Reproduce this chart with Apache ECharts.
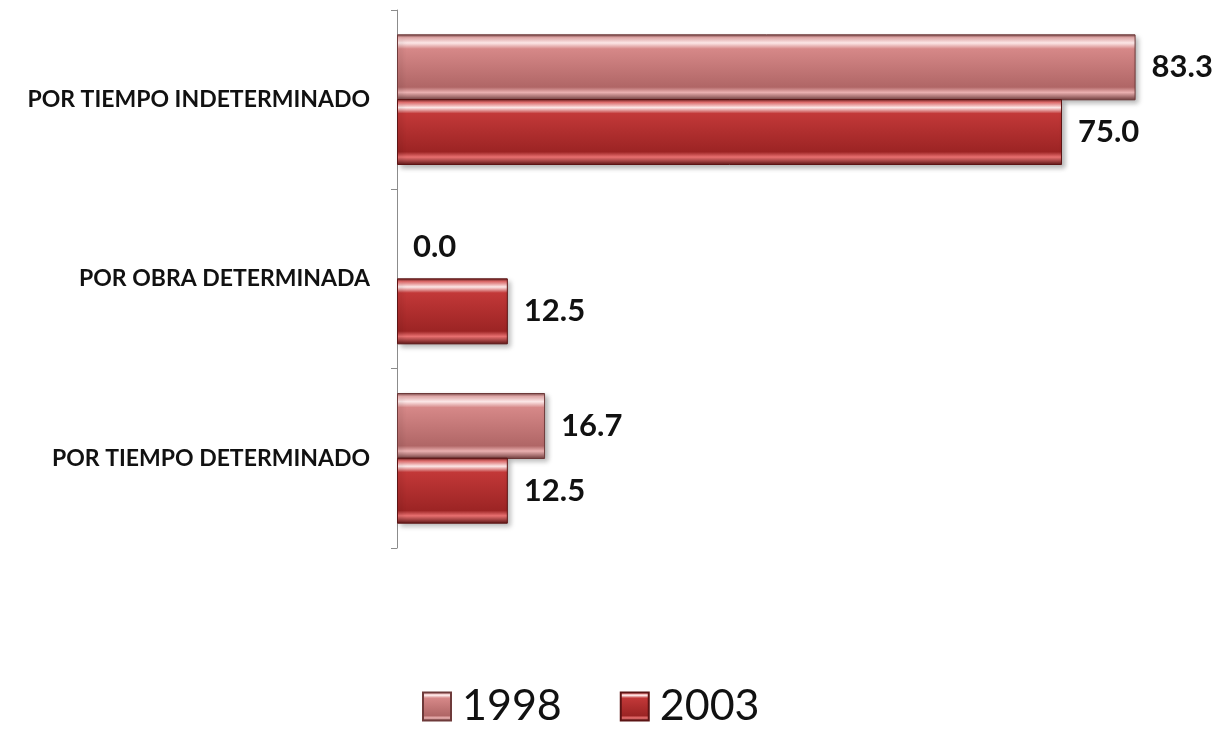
<!DOCTYPE html>
<html>
<head>
<meta charset="utf-8">
<script src="https://cdn.jsdelivr.net/npm/echarts@6/dist/echarts.min.js"></script>
<style>
  html, body { margin: 0; padding: 0; background: #fff; }
  #chart { width: 1224px; height: 729px; }
</style>
</head>
<body>
<div id="chart"></div>
<script>
var categories = ["POR TIEMPO INDETERMINADO", "POR OBRA DETERMINADA", "POR TIEMPO DETERMINADO"];
var years = ["1998", "2003"];
var values1998 = [83.3, 0.0, 16.7];
var values2003 = [75.0, 12.5, 12.5];

// bevel-ish vertical gradient
function bevel(light, top, main, bottom, dark) {
  return new echarts.graphic.LinearGradient(0, 0, 0, 1, [
    { offset: 0, color: dark },
    { offset: 0.05, color: light },
    { offset: 0.13, color: "#fde8e8" },
    { offset: 0.22, color: top },
    { offset: 0.8, color: bottom },
    { offset: 0.88, color: light },
    { offset: 1, color: dark }
  ]);
}

// zero bars get no border or shadow so nothing shows
function items(values) {
  return values.map(function (v) {
    if (v === 0) {
      return { value: v, itemStyle: { borderWidth: 0, shadowBlur: 0, shadowOffsetX: 0, shadowOffsetY: 0 } };
    }
    return v;
  });
}

var chart = echarts.init(document.getElementById("chart"));

var labelStyle = {
  show: true,
  position: "right",
  distance: 16,
  fontFamily: "Lato",
  fontWeight: "bold",
  fontSize: 31,
  color: "#111",
  formatter: function (p) { return p.value.toFixed(1); }
};

var shadow = {
  shadowColor: "rgba(0,0,0,0.3)",
  shadowBlur: 5,
  shadowOffsetX: 3,
  shadowOffsetY: 3
};

chart.setOption({
  animation: false,
  grid: { left: 397, top: 10, width: 798, bottom: 181 },
  xAxis: {
    type: "value",
    min: 0,
    max: 90,
    show: false
  },
  yAxis: {
    type: "category",
    inverse: true,
    data: categories,
    axisLine: { show: true, lineStyle: { color: "#8c8c8c", width: 1 } },
    axisTick: { show: true, length: 6, lineStyle: { color: "#8c8c8c" } },
    axisLabel: {
      margin: 27,
      fontFamily: "Lato",
      fontWeight: "bold",
      fontSize: 23,
      color: "#111"
    }
  },
  legend: {
    top: 680,
    left: 417,
    icon: "rect",
    itemWidth: 28,
    itemHeight: 28,
    itemGap: 58,
    textStyle: { fontFamily: "Lato", fontSize: 43, color: "#111", padding: [0, 0, 0, 6] },
    data: years
  },
  series: [
    {
      name: years[0],
      type: "bar",
      data: items(values1998),
      barWidth: 66,
      barGap: "-2%",
      itemStyle: Object.assign({
        color: bevel("#eab0b0", "#d68888", "#c47a7a", "#b06666", "#6e3a3a"),
        borderColor: "#6e3a3a",
        borderWidth: 1
      }, shadow),
      label: labelStyle
    },
    {
      name: years[1],
      type: "bar",
      data: items(values2003),
      barWidth: 66,
      itemStyle: Object.assign({
        color: bevel("#e87070", "#c23838", "#b32f2f", "#9c2424", "#5c1414"),
        borderColor: "#5c1414",
        borderWidth: 1
      }, shadow),
      label: labelStyle
    }
  ]
});
</script>
</body>
</html>
